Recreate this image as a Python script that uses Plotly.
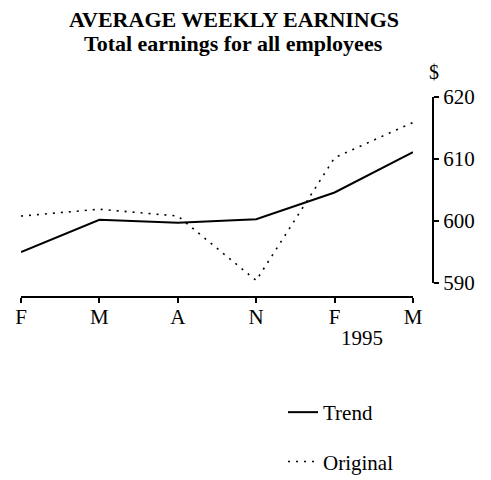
import plotly.graph_objects as go

months = ["Feb", "May", "Aug", "Nov", "Feb 95", "May 95"]
tick_labels = ["F", "M", "A", "N", "F", "M"]
trend = [595.0, 600.2, 599.7, 600.3, 604.6, 611.1]
original = [600.8, 601.9, 600.8, 590.4, 610.2, 615.9]
y_ticks = [590, 600, 610, 620]

serif = "Liberation Serif, Times New Roman, serif"

# the page body has an 8px default margin, so the figure is shifted by OFF
OFF = 8
W, H = 491 - OFF, 480 - OFF
# plot-area geometry in reference pixels
RL, RT, RW, RH = 21, 97, 412, 200
PL, PT = RL - OFF, RT - OFF


def px(x):
    return (x - RL) / RW


def py(y):
    return (RT + RH - y) / RH


xs = list(range(len(months)))
fig = go.Figure()
fig.add_trace(go.Scatter(x=xs, y=trend, mode="lines", name="Trend",
                         line=dict(color="black", width=2), legendgroup="a"))
fig.add_trace(go.Scatter(x=xs, y=original, mode="lines", name="Original",
                         line=dict(color="black", width=1.6, dash="2px,6px"), legendgroup="b"))

fig.update_layout(
    width=W, height=H,
    margin=dict(l=PL, r=W - PL - RW, t=PT, b=H - PT - RH, autoexpand=False),
    plot_bgcolor="white", paper_bgcolor="white",
    font=dict(family=serif, size=21, color="black"),
    xaxis=dict(domain=[0, 392 / 412], range=[0, 5], tickmode="array",
               tickvals=xs, ticktext=tick_labels,
               showline=True, linecolor="black", linewidth=2,
               ticks="outside", ticklen=5, tickwidth=1.5, tickcolor="black",
               showgrid=False, zeroline=False, anchor="free", position=0,
               automargin=False, tickfont=dict(size=21), ticklabelstandoff=-4),
    yaxis=dict(domain=[0.07, 1], range=[590, 620], side="right", anchor="free", position=1,
               tickmode="array", tickvals=y_ticks,
               showline=True, linecolor="black", linewidth=2,
               ticks="outside", ticklen=5, tickwidth=1.5, tickcolor="black",
               showgrid=False, zeroline=False, automargin=False, tickfont=dict(size=21)),
    showlegend=True,
    legend=dict(x=px(283), y=py(392), xanchor="left", yanchor="top", tracegroupgap=19,
                font=dict(size=21), bgcolor="rgba(0,0,0,0)"),
    annotations=[
        dict(text="<b>AVERAGE WEEKLY EARNINGS</b>", x=px(234), y=py(19), xref="paper",
             yref="paper", xanchor="center", yanchor="middle", showarrow=False,
             font=dict(size=22), borderpad=0),
        dict(text="<b>Total earnings for all employees</b>", x=px(233), y=py(43), xref="paper",
             yref="paper", xanchor="center", yanchor="middle", showarrow=False,
             font=dict(size=22), borderpad=0),
        dict(text="$", x=px(434), y=py(72), xref="paper", yref="paper",
             xanchor="center", yanchor="middle", showarrow=False, font=dict(size=20)),
        dict(text="1995", x=px(362), y=py(338), xref="paper", yref="paper",
             xanchor="center", yanchor="middle", showarrow=False, font=dict(size=21)),
    ],
)

fig.write_html("out.html")
